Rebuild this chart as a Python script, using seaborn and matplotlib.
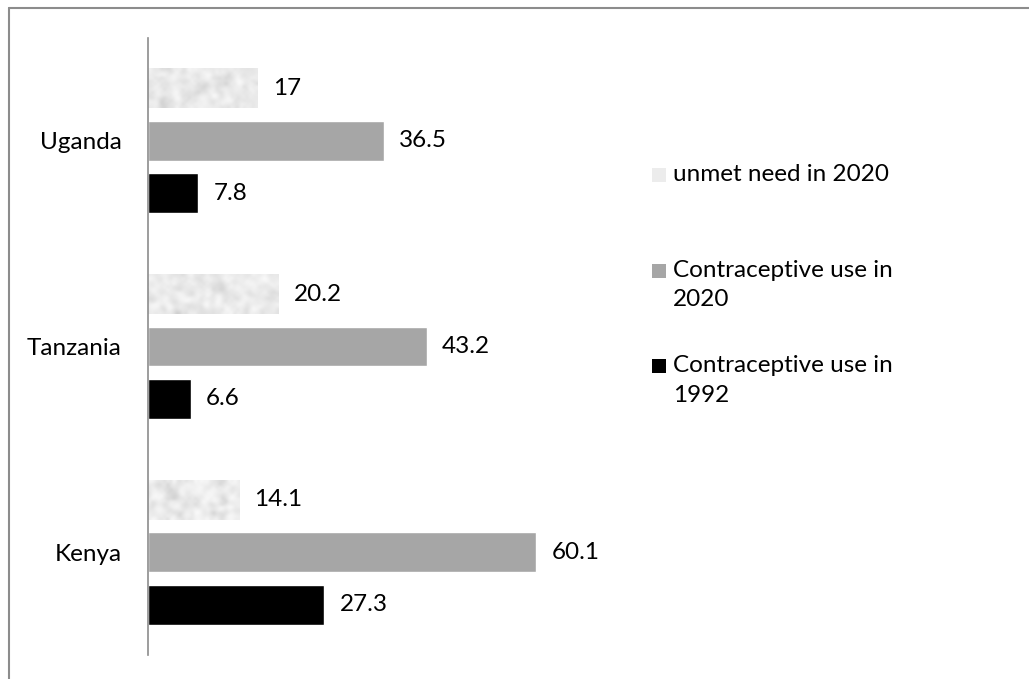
import numpy as np
import pandas as pd
import seaborn as sns
import matplotlib.pyplot as plt
from matplotlib.patches import Rectangle
from matplotlib.lines import Line2D

countries = ["Uganda", "Tanzania", "Kenya"]
series = ["unmet need in 2020", "Contraceptive use in 2020", "Contraceptive use in 1992"]
legend_labels = ["unmet need in 2020", "Contraceptive use in\n2020", "Contraceptive use in\n1992"]
unmet_2020 = [17, 20.2, 14.1]
use_2020 = [36.5, 43.2, 60.1]
use_1992 = [7.8, 6.6, 27.3]
colors = ["#ececec", "#a6a6a6", "#000000"]

df = pd.DataFrame({
    "country": countries * 3,
    "series": [s for s in series for _ in countries],
    "value": unmet_2020 + use_2020 + use_1992,
})

sns.set_style("white")
plt.rcParams["font.family"] = ["Lato", "DejaVu Sans"]
FS = 17.5

W, H = 1029, 679
fig = plt.figure(figsize=(W / 100, H / 100), dpi=100)


def fx(px):
    return px / W


def fy(py):
    return 1 - py / H


ax = fig.add_axes([fx(148), fy(655), fx(640) - fx(148), fy(38) - fy(655)])

sns.barplot(data=df, x="value", y="country", hue="series", hue_order=series,
            order=countries, orient="h", palette=colors, saturation=1,
            width=0.765, gap=0.24, legend=False, ax=ax)

PX_PER_UNIT = 6.456
xmax = (640 - 148) / PX_PER_UNIT


# paper-like mottled texture for the unmet-need bars
def mottled(h, w, seed):
    rng = np.random.default_rng(seed)
    a = rng.random((h, w))
    a = (a + np.roll(a, 1, 0) + np.roll(a, -1, 0) + np.roll(a, 1, 1) + np.roll(a, -1, 1)) / 5
    a = (a - a.min()) / (a.max() - a.min())
    return 0.80 + 0.19 * a ** 0.7


for i, patch in enumerate(ax.containers[0]):
    bb = patch.get_bbox()
    tex = mottled(14, max(6, int(bb.width * PX_PER_UNIT / 3)), seed=5 + i)
    im = ax.imshow(tex, extent=(bb.x0, bb.x1, bb.y1, bb.y0), aspect="auto",
                   cmap="gray", vmin=0, vmax=1, interpolation="bicubic",
                   zorder=patch.get_zorder() + 0.1)
    im.set_clip_path(patch)

ax.set_xlim(0, xmax)
ax.set_ylim(2.5, -0.5)

for cont in ax.containers:
    vals = [p.get_width() for p in cont]
    ax.bar_label(cont, labels=[f"{v:g}" for v in vals], padding=11,
                 fontsize=FS, color="#000000")

ax.xaxis.set_visible(False)
ax.set_ylabel("")
ax.tick_params(axis="y", length=0, pad=19, labelsize=FS, labelcolor="#000000")
for s in ["top", "right", "bottom"]:
    ax.spines[s].set_visible(False)
ax.spines["left"].set_color("#8c8c8c")
ax.spines["left"].set_linewidth(1.2)

# legend
leg_y = [175, 271, 366]
for lab, col, y in zip(legend_labels, colors, leg_y):
    fig.add_artist(Rectangle((fx(652), fy(y + 7)), fx(14), 14 / H,
                             facecolor=col, edgecolor="none",
                             transform=fig.transFigure))
    fig.text(fx(673), fy(y - 11), lab, fontsize=FS, va="top", ha="left",
             linespacing=1.5, color="#000000")

# outer frame
fig.add_artist(Line2D([fx(9), 1], [fy(8), fy(8)], color="#8c8c8c", lw=1.5,
                      transform=fig.transFigure))
fig.add_artist(Line2D([fx(9), fx(9)], [fy(8), 0], color="#8c8c8c", lw=1.5,
                      transform=fig.transFigure))

fig.savefig("out.png", dpi=100)
